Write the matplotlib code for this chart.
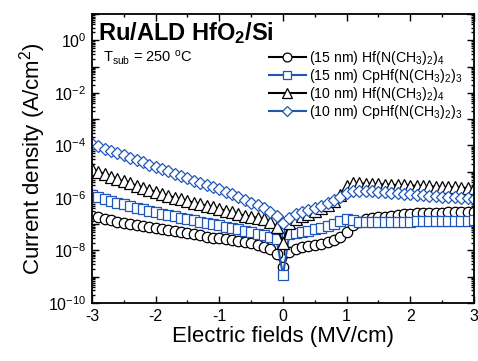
import numpy as np
import matplotlib
matplotlib.use("Agg")
import matplotlib.pyplot as plt
from matplotlib.ticker import LogLocator, FixedLocator, MultipleLocator, FuncFormatter, NullFormatter

plt.rcParams['font.family'] = ['Liberation Sans', 'DejaVu Sans']
plt.rcParams['mathtext.fontset'] = 'custom'
plt.rcParams['mathtext.rm'] = 'Liberation Sans'
plt.rcParams['mathtext.it'] = 'Liberation Sans:italic'
plt.rcParams['mathtext.bf'] = 'Liberation Sans:bold'

# ---- data (log10 of current density, A/cm^2) ----
field = np.round(np.arange(-3.0, 3.0001, 0.1), 2)

log_15nm_hf = [-6.67, -6.74, -6.80, -6.86, -6.91, -6.95, -6.99, -7.03, -7.07, -7.10,
               -7.13, -7.17, -7.21, -7.25, -7.30, -7.35, -7.39, -7.43, -7.47, -7.51,
               -7.54, -7.57, -7.60, -7.63, -7.67, -7.72, -7.78, -7.86, -7.96, -8.15,
               -8.62, -8.05, -7.95, -7.88, -7.84, -7.80, -7.75, -7.68, -7.60, -7.48,
               -7.30, -7.05, -6.90, -6.82, -6.78, -6.74, -6.71, -6.68, -6.65, -6.62,
               -6.60, -6.59, -6.58, -6.57, -6.56, -6.56, -6.55, -6.55, -6.55, -6.54, -6.54]

log_15nm_cp = [-5.90, -5.97, -6.04, -6.11, -6.18, -6.24, -6.30, -6.37, -6.43, -6.49,
               -6.55, -6.60, -6.65, -6.70, -6.75, -6.80, -6.85, -6.90, -6.95, -7.00,
               -7.05, -7.10, -7.15, -7.20, -7.26, -7.31, -7.37, -7.42, -7.48, -7.58,
               -8.94, -7.38, -7.34, -7.30, -7.25, -7.20, -7.14, -7.07, -6.99, -6.88,
               -6.80, -6.86, -6.93, -6.93, -6.92, -6.92, -6.91, -6.91, -6.90, -6.90,
               -6.90, -6.89, -6.89, -6.89, -6.88, -6.88, -6.88, -6.87, -6.87, -6.87, -6.86]

log_10nm_hf = [-4.90, -5.00, -5.10, -5.19, -5.28, -5.37, -5.45, -5.53, -5.61, -5.69,
               -5.77, -5.85, -5.92, -5.99, -6.06, -6.12, -6.18, -6.24, -6.30, -6.36,
               -6.42, -6.48, -6.55, -6.62, -6.68, -6.72, -6.76, -6.82, -6.90, -7.10,
               -7.70, -6.95, -6.80, -6.70, -6.60, -6.50, -6.40, -6.28, -6.12, -5.90,
               -5.55, -5.45, -5.45, -5.46, -5.47, -5.48, -5.49, -5.50, -5.51, -5.52,
               -5.53, -5.54, -5.55, -5.56, -5.57, -5.58, -5.59, -5.60, -5.61, -5.62, -5.63]

log_10nm_cp = [-3.95, -4.03, -4.12, -4.21, -4.30, -4.38, -4.47, -4.56, -4.64, -4.73,
               -4.82, -4.90, -4.99, -5.08, -5.17, -5.26, -5.34, -5.42, -5.51, -5.59,
               -5.67, -5.76, -5.86, -5.96, -6.07, -6.18, -6.28, -6.40, -6.52, -6.68,
               -6.95, -6.75, -6.62, -6.52, -6.45, -6.38, -6.30, -6.20, -6.08, -5.95,
               -5.82, -5.75, -5.72, -5.72, -5.74, -5.76, -5.78, -5.80, -5.82, -5.84,
               -5.86, -5.88, -5.90, -5.91, -5.93, -5.95, -5.97, -5.98, -6.00, -6.02, -6.04]

labels = [r'(15 nm) Hf(N(CH$_3$)$_2$)$_4$',
          r'(15 nm) CpHf(N(CH$_3$)$_2$)$_3$',
          r'(10 nm) Hf(N(CH$_3$)$_2$)$_4$',
          r'(10 nm) CpHf(N(CH$_3$)$_2$)$_3$']

BLUE = '#1f57b8'
series = [(log_15nm_hf, 'black', 'o', 7.5),
          (log_15nm_cp, BLUE, 's', 6.5),
          (log_10nm_hf, 'black', '^', 8.0),
          (log_10nm_cp, BLUE, 'D', 6.5)]

fig = plt.figure(figsize=(4.78, 3.61), dpi=100)
ax = fig.add_axes([0.1925, 0.1607, 0.7990, 0.8005])

for (vals, col, mk, ms), lab in zip(series, labels):
    y = 10.0 ** np.array(vals)
    ax.plot(field, y, color=col, lw=1.5, marker=mk, ms=ms, mfc='white',
            mec=col, mew=0.9, label=lab)

ax.set_yscale('log')
ax.set_xlim(-3, 3)
ax.set_ylim(1e-10, 1e1)

ax.xaxis.set_major_locator(MultipleLocator(1))
ax.xaxis.set_minor_locator(MultipleLocator(0.5))
ax.xaxis.set_major_formatter(FuncFormatter(lambda v, p: '%d' % round(v)))

ax.yaxis.set_major_locator(FixedLocator([10.0 ** e for e in range(-10, 2)]))
ax.yaxis.set_minor_locator(LogLocator(base=10, subs=np.arange(2, 10), numticks=30))
ax.yaxis.set_minor_formatter(NullFormatter())

def yfmt(v, p):
    e = int(round(np.log10(v)))
    if e % 2 == 0 and e <= 0:
        return r'$\mathregular{10^{%d}}$' % e
    return ''
ax.yaxis.set_major_formatter(FuncFormatter(yfmt))

ax.tick_params(which='both', direction='in', top=True, right=True, width=1.0)
ax.tick_params(which='major', length=5, labelsize=11.5, pad=4)
ax.tick_params(which='minor', length=2.5)
for s in ax.spines.values():
    s.set_linewidth(1.3)

ax.set_xlabel('Electric fields (MV/cm)', fontsize=16, labelpad=2)
ax.set_ylabel(r'Current density (A/cm$^2$)', fontsize=16, labelpad=0)

ax.text(0.015, 0.98, r'$\mathbf{Ru/ALD\ HfO_2/Si}$', transform=ax.transAxes,
        fontsize=17, ha='left', va='top')
ax.text(0.03, 0.85, r'T$_{\mathregular{sub}}$ = 250 $^{\mathregular{o}}$C', transform=ax.transAxes,
        fontsize=10.5, ha='left', va='center')

leg = ax.legend(loc='upper left', bbox_to_anchor=(0.463, 0.878), frameon=False,
                fontsize=10.2, handlelength=2.6, handletextpad=0.2,
                labelspacing=0.0, borderaxespad=0, borderpad=0, markerscale=0.85)

fig.savefig('out.png', dpi=100)
